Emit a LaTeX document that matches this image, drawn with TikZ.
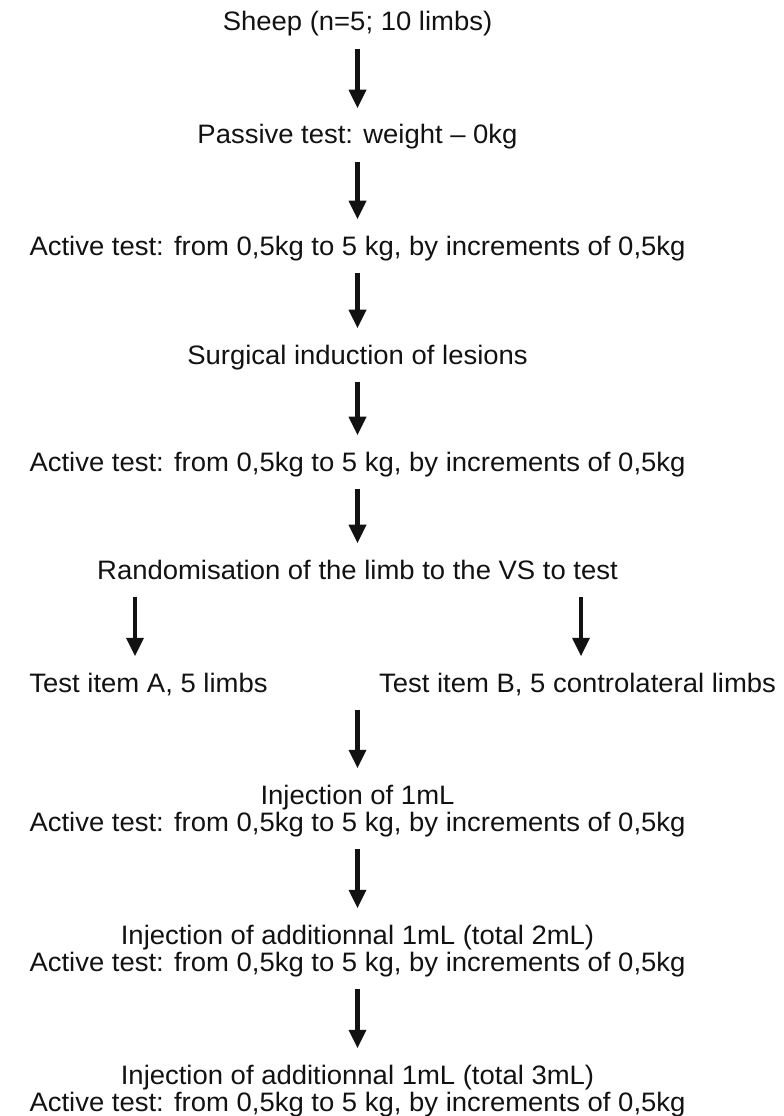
\documentclass[tikz,border=0pt]{standalone}
\usepackage{fontspec}
\setmainfont{Liberation Sans}
\usetikzlibrary{arrows.meta}
\newcommand{\sx}{1.03}
\newcommand{\T}[1]{\scalebox{\sx}[1]{\begin{tabular}[t]{@{}c@{}}#1\end{tabular}}}
\tikzset{
  lbl/.style={inner sep=0pt, anchor=base, text=black!93, font=\fontsize{20}{20.25}\selectfont},
  arr/.style={line width=3.2pt, draw=black!93, -{Triangle[width=12.5pt,length=14pt]}, shorten <=7pt, shorten >=12pt}
}
\begin{document}
\begin{tikzpicture}[x=0.75pt,y=-0.75pt]
\useasboundingbox (0,0) rectangle (784,1116);
\node[lbl] (sheep) at (357.5,31) {\T{Sheep (n=5; 10 limbs)}};
\node[lbl] (passive) at (357.5,144) {\T{Passive test: weight -- 0kg}};
\node[lbl] (act1) at (357.5,255) {\T{Active test: from 0,5kg to 5 kg, by increments of 0,5kg}};
\node[lbl] (surg) at (357.5,364) {\T{Surgical induction of lesions}};
\node[lbl] (act2) at (357.5,471) {\T{Active test: from 0,5kg to 5 kg, by increments of 0,5kg}};
\node[lbl] (rand) at (357.5,579) {\T{Randomisation of the limb to the VS to test}};
\node[lbl] (itemA) at (148.5,692) {\T{Test item A, 5 limbs}};
\node[lbl] (itemB) at (577.5,692) {\T{Test item B, 5 controlateral limbs}};
\node[lbl] (inj1) at (357.5,804) {\T{Injection of 1mL\\Active test: from 0,5kg to 5 kg, by increments of 0,5kg}};
\node[lbl] (inj2) at (357.5,944) {\T{Injection of additionnal 1mL (total 2mL)\\Active test: from 0,5kg to 5 kg, by increments of 0,5kg}};
\node[lbl] (inj3) at (357.5,1084) {\T{Injection of additionnal 1mL (total 3mL)\\Active test: from 0,5kg to 5 kg, by increments of 0,5kg}};
\coordinate (aL) at (135,0);
\coordinate (aR) at (581,0);
\draw[arr] (sheep.south) -- (passive.north);
\draw[arr] (passive.south) -- (act1.north);
\draw[arr] (act1.south) -- (surg.north);
\draw[arr] (surg.south) -- (act2.north);
\draw[arr] (act2.south) -- (rand.north);
\draw[arr] (rand.south -| aL) -- (itemA.north -| aL);
\draw[arr] (rand.south -| aR) -- (itemB.north -| aR);
\draw[arr] (itemA.south -| inj1.north) -- (inj1.north);
\draw[arr] (inj1.south) -- (inj2.north);
\draw[arr] (inj2.south) -- (inj3.north);
\end{tikzpicture}
\end{document}
